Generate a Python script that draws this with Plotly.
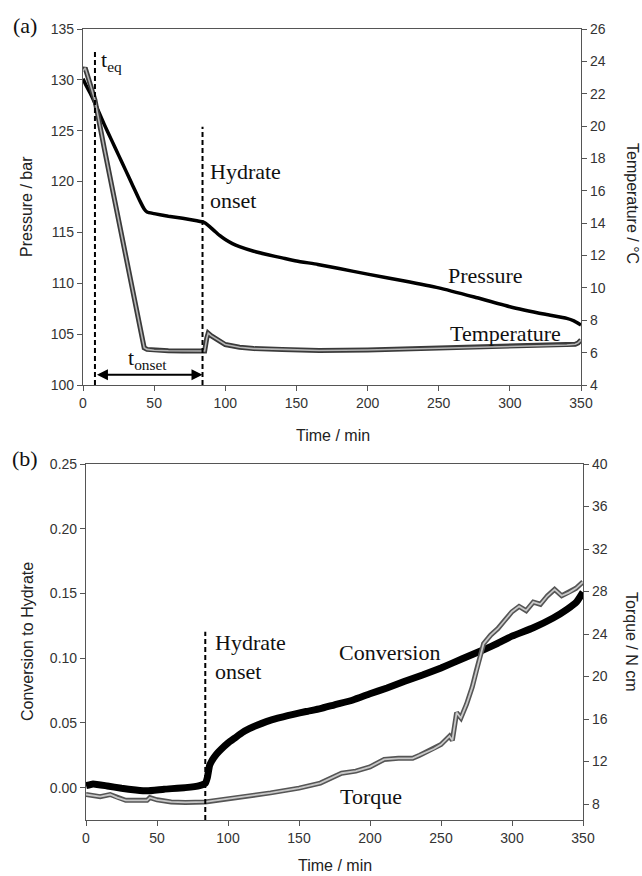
import plotly.graph_objects as go

# ---------------- data ----------------
# panel (a): pressure (bar, left axis)
time_p = [0, 2, 5, 8.4, 15, 20, 25, 30, 35, 40, 43, 45, 50, 60, 70, 80, 85, 88, 92, 96,
          100, 105, 110, 120, 130, 140, 150, 165, 180, 200, 225, 250, 275, 300, 325,
          340, 345, 350]
pressure = [130.1, 129.5, 128.7, 127.7, 125.6, 124.1, 122.6, 121.1, 119.6, 118.1, 117.3,
            117.0, 116.85, 116.6, 116.4, 116.15, 116.0, 115.7, 115.2, 114.7,
            114.3, 113.9, 113.6, 113.15, 112.8, 112.5, 112.2, 111.85, 111.45, 110.9,
            110.25, 109.55, 108.65, 107.7, 106.95, 106.55, 106.3, 105.9]

# panel (a): temperature (°C, right axis)
time_t = [0, 1.5, 4, 8.4, 15, 20, 25, 30, 35, 40, 43, 45, 50, 60, 70, 80, 85.5, 87, 88,
          90, 95, 100, 110, 120, 140, 166, 200, 250, 300, 340, 346, 348, 350]
temperature = [23.4, 23.6, 22.9, 21.6, 18.6, 16.4, 14.1, 11.9, 9.6, 7.4, 6.3, 6.2, 6.15,
               6.12, 6.1, 6.1, 6.1, 6.9, 7.2, 7.05, 6.75, 6.5, 6.33, 6.25, 6.2, 6.13,
               6.16, 6.27, 6.37, 6.47, 6.52, 6.6, 6.78]

# panel (b): conversion to hydrate (left axis)
time_c = [0, 5, 15, 25, 35, 43, 55, 70, 80, 84, 85.5, 87, 88.5, 90, 92, 95, 100, 105,
          110, 115, 120, 127, 135, 146, 155, 165, 175, 188, 200, 212, 224, 237, 250,
          265, 280, 290, 300, 315, 329, 338.5, 345.5, 350]
conversion = [0.0016, 0.0029, 0.0013, -0.0005, -0.0018, -0.0025, -0.0012, 0.0, 0.0016,
              0.0034, 0.008, 0.017, 0.0205, 0.023, 0.026, 0.0295, 0.0345, 0.0385,
              0.0425, 0.0455, 0.048, 0.051, 0.0537, 0.0566, 0.0588, 0.061, 0.064,
              0.0677, 0.0725, 0.077, 0.082, 0.087, 0.0925, 0.0995, 0.1065, 0.1115,
              0.117, 0.1235, 0.131, 0.1375, 0.1435, 0.151]

# panel (b): torque (N cm, right axis)
time_q = [0, 5, 10, 17, 22, 28, 35, 43, 45, 50, 60, 70, 84, 95, 110, 130, 150, 165, 180,
          190, 200, 210, 220, 230, 235, 245, 250, 256, 258, 261, 264, 268, 272, 275, 278,
          280, 285, 290, 295, 300, 305, 310, 315, 320, 325, 330, 335, 340, 345, 350]
torque = [8.9, 8.8, 8.7, 8.9, 8.6, 8.35, 8.35, 8.35, 8.6, 8.4, 8.2, 8.15, 8.2, 8.4, 8.65,
          9.05, 9.5, 9.97, 10.9, 11.1, 11.5, 12.2, 12.3, 12.3, 12.6, 13.2, 13.6, 14.4,
          14.0, 16.6, 16.1, 17.4, 19.0, 20.6, 22.3, 23.1, 23.9, 24.5, 25.3, 26.1, 26.6,
          26.2, 27.0, 26.8, 27.6, 28.2, 27.6, 27.9, 28.3, 28.9]

# event times (min)
t_eq = 8.4
t_onset = 84

x_ticks = [0, 50, 100, 150, 200, 250, 300, 350]

# ---------------- figure ----------------
W, H = 642, 876
def px_x(p):
    return p / W
def px_y(p):
    return 1 - p / H

fig = go.Figure()

# panel (a)
fig.add_trace(go.Scatter(x=time_t, y=temperature, xaxis='x', yaxis='y2', mode='lines',
                         line=dict(color='#3a3a3a', width=5), hoverinfo='skip'))
fig.add_trace(go.Scatter(x=time_t, y=temperature, xaxis='x', yaxis='y2', mode='lines',
                         line=dict(color='#b5b5b5', width=1.6), hoverinfo='skip'))
fig.add_trace(go.Scatter(x=time_p, y=pressure, xaxis='x', yaxis='y', mode='lines',
                         line=dict(color='black', width=3.5, shape='spline', smoothing=0.5)))

# panel (b)
fig.add_trace(go.Scatter(x=time_q, y=torque, xaxis='x2', yaxis='y4', mode='lines',
                         line=dict(color='#555555', width=5), hoverinfo='skip'))
fig.add_trace(go.Scatter(x=time_q, y=torque, xaxis='x2', yaxis='y4', mode='lines',
                         line=dict(color='#c8c8c8', width=1.8), hoverinfo='skip'))
fig.add_trace(go.Scatter(x=time_c, y=conversion, xaxis='x2', yaxis='y3', mode='lines',
                         line=dict(color='black', width=7, shape='spline', smoothing=0.4)))

tickfont = dict(family='Liberation Sans, Arial, sans-serif', size=14, color='#333')
axcommon = dict(showline=True, linecolor='#555', linewidth=1.2, ticks='outside',
                ticklen=5, tickcolor='#555', tickwidth=1.2, showgrid=False,
                zeroline=False, tickfont=tickfont, automargin=False)

fig.update_layout(
    width=W, height=H, margin=dict(l=0, r=0, t=0, b=0),
    paper_bgcolor='white', plot_bgcolor='white', showlegend=False,
    xaxis=dict(domain=[px_x(83), px_x(581)], anchor='y', range=[0, 350],
               tickvals=x_ticks, mirror=True, **axcommon),
    yaxis=dict(domain=[px_y(385), px_y(29)], anchor='x', range=[100, 135], dtick=5,
               **axcommon),
    yaxis2=dict(domain=[px_y(385), px_y(29)], anchor='x', overlaying='y', side='right',
                range=[4, 26], dtick=2, **axcommon),
    xaxis2=dict(domain=[px_x(86), px_x(583)], anchor='y3', range=[0, 350],
                tickvals=x_ticks, mirror=True, **axcommon),
    yaxis3=dict(domain=[px_y(820), px_y(464)], anchor='x2', range=[-0.025, 0.25],
                dtick=0.05, tickformat='.2f', **axcommon),
    yaxis4=dict(domain=[px_y(820), px_y(464)], anchor='x2', overlaying='y3',
                side='right', range=[6.5, 40], tick0=0, dtick=4, **axcommon),
)

dash = dict(color='black', width=2, dash='5px,3px')
fig.add_shape(type='line', xref='x', yref='y', x0=t_eq, x1=t_eq, y0=100, y1=132.9, line=dash)
fig.add_shape(type='line', xref='x', yref='y', x0=t_onset, x1=t_onset, y0=100, y1=125.4, line=dash)
fig.add_shape(type='line', xref='x2', yref='y3', x0=t_onset, x1=t_onset, y0=-0.025, y1=0.1205, line=dash)

# double arrow t_onset
fig.add_annotation(x=t_onset, y=101, ax=t_eq, ay=101, xref='x', yref='y', axref='x', ayref='y',
                   text=' ', showarrow=True, arrowhead=2, arrowsize=1.1, arrowwidth=2,
                   arrowside='end+start', arrowcolor='black', font=dict(size=2))

serif = dict(family='Liberation Serif, Times New Roman, serif', size=22, color='#111')
sans16 = dict(family='Liberation Sans, Arial, sans-serif', size=16, color='#222')

def ann(text, x, y, font, xref='x', yref='y', xanchor='center', yanchor='middle', angle=0, align='left'):
    fig.add_annotation(text=text, x=x, y=y, xref=xref, yref=yref, showarrow=False,
                       font=font, xanchor=xanchor, yanchor=yanchor, textangle=angle,
                       align=align)

# text in panel (a)
ann('t<sub>eq</sub>', 11.5, 131.9, serif, xanchor='left')
ann('t<sub>onset</sub>', 45, 102.6, serif)
ann('Hydrate<br>onset', 88, 119.6, serif, xanchor='left')
ann('Pressure', 283, 110.8, serif)
ann('Temperature', 296.6, 105.1, serif)

# text in panel (b)
ann('Hydrate<br>onset', 89.6, 0.1006, serif, xref='x2', yref='y3', xanchor='left')
ann('Conversion', 214, 0.1046, serif, xref='x2', yref='y3')
ann('Torque', 200.5, -0.0069, serif, xref='x2', yref='y3')

# panel labels
ann('(a)', px_x(24.5), px_y(25), serif, xref='paper', yref='paper')
ann('(b)', px_x(24.5), px_y(458), serif, xref='paper', yref='paper')

# axis titles
ann('Pressure / bar', px_x(27), px_y(207), sans16, xref='paper', yref='paper', angle=-90)
ann('Temperature / °C', px_x(633), px_y(203), sans16, xref='paper', yref='paper', angle=90)
ann('Time / min', px_x(333), px_y(435), sans16, xref='paper', yref='paper')
ann('Conversion to Hydrate', px_x(27), px_y(642), sans16, xref='paper', yref='paper', angle=-90)
ann('Torque / N cm', px_x(632), px_y(642), sans16, xref='paper', yref='paper', angle=90)
ann('Time / min', px_x(335), px_y(865), sans16, xref='paper', yref='paper')

fig.write_html('out.html')
